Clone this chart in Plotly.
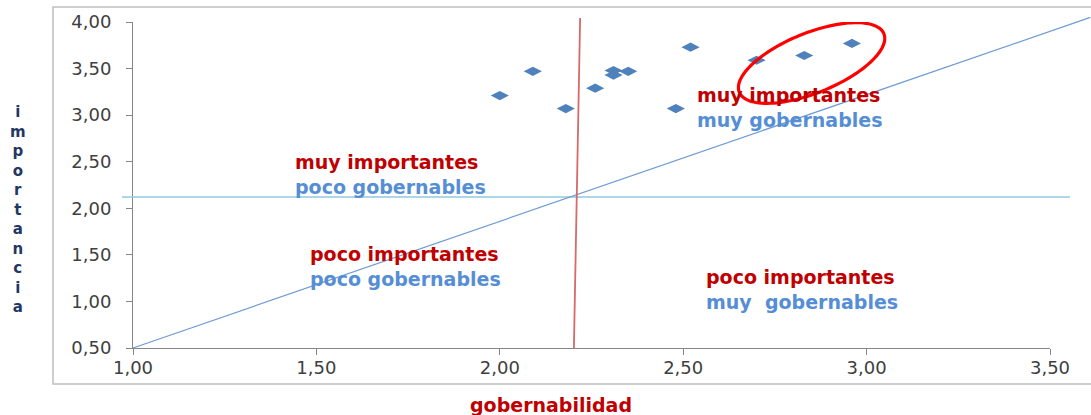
import numpy as np
import plotly.graph_objects as go

# ---- data ----
gobernabilidad = [2.00, 2.09, 2.18, 2.26, 2.31, 2.31, 2.35, 2.48, 2.52, 2.70, 2.83, 2.96]
importancia    = [3.21, 3.47, 3.07, 3.29, 3.48, 3.43, 3.47, 3.07, 3.73, 3.59, 3.64, 3.77]

x_ticks = [1.0, 1.5, 2.0, 2.5, 3.0, 3.5]
y_ticks = [0.5, 1.0, 1.5, 2.0, 2.5, 3.0, 3.5, 4.0]

umbral_gob = [2.202, 2.219]      # red vertical divider (bottom, top)
umbral_imp = 2.12                # horizontal divider
diag_x = [1.0, 3.61]
diag_y = [0.5, 4.05]

quad_x = [1.436, 2.532, 1.477, 2.557]
quad_y = [2.368, 3.082, 1.380, 1.123]
quad_imp = ["muy importantes", "muy importantes", "poco importantes", "poco importantes"]
quad_gob = ["poco gobernables", "muy gobernables", "poco gobernables", "muy  gobernables"]

# ---- layout constants ----
W, H = 1091, 415
ML, MR, MT, MB = 133, 41, 22, 67
XR = [1.0, 3.5]
YR = [0.5, 4.0]
PW, PH = W - ML - MR, H - MT - MB
sx = PW / (XR[1] - XR[0])
sy = PH / (YR[1] - YR[0])


def x_frac(v):
    return (v - XR[0]) / (XR[1] - XR[0])


def y_frac(v):
    return (v - YR[0]) / (YR[1] - YR[0])


RED_T = "#C00000"
BLUE_T = "#558ED5"
TICK_C = "#404040"
FONT = "DejaVu Sans"

fig = go.Figure()
fig.add_trace(go.Scatter(
    x=gobernabilidad, y=importancia, mode="markers",
    marker=dict(symbol="diamond-wide", size=13, color="#4F81BD"),
    showlegend=False, hoverinfo="x+y"))

shapes = []
# outer chart border
shapes.append(dict(type="rect", xref="paper", yref="paper",
                   x0=-80 / PW, x1=1.2, y0=-36 / PH, y1=1 + 15 / PH,
                   line=dict(color="#BFBFBF", width=1.5), layer="below"))
# horizontal divider
shapes.append(dict(type="line", xref="paper", yref="y",
                   x0=-11 / PW, x1=1 + 20 / PW, y0=umbral_imp, y1=umbral_imp,
                   line=dict(color="#8FCBDB", width=1.5)))
# diagonal (extends past the plot edge like the original)
shapes.append(dict(type="line", xref="paper", yref="paper",
                   x0=x_frac(diag_x[0]), x1=x_frac(diag_x[1]),
                   y0=y_frac(diag_y[0]), y1=y_frac(diag_y[1]),
                   line=dict(color="#6E9BD6", width=1.2)))
# vertical divider
shapes.append(dict(type="line", xref="x", yref="paper",
                   x0=umbral_gob[0], x1=umbral_gob[1], y0=0, y1=1 + 4 / PH,
                   line=dict(color="#D66A6A", width=1.8)))
# red ellipse around the three top-right points
cx, cy = 2.85, 3.56
a, b, ang = 78, 30, np.deg2rad(22)
t = np.linspace(0, 2 * np.pi, 120)
ex_px = a * np.cos(t) * np.cos(ang) - b * np.sin(t) * np.sin(ang)
ey_px = a * np.cos(t) * np.sin(ang) + b * np.sin(t) * np.cos(ang)
ex = cx + ex_px / sx
ey = cy + ey_px / sy
path = "M " + " L ".join(f"{u:.4f},{v:.4f}" for u, v in zip(ex, ey)) + " Z"
shapes.append(dict(type="path", xref="x", yref="y", path=path,
                   line=dict(color="#FF0000", width=3.2)))

annotations = []
for qx, qy, ti, tg in zip(quad_x, quad_y, quad_imp, quad_gob):
    annotations.append(dict(
        x=qx, y=qy, xref="x", yref="y", xanchor="left", yanchor="middle",
        align="left", showarrow=False,
        text=f"<span style='color:{RED_T}'>{ti}</span><br><span style='color:{BLUE_T}'>{tg}</span>",
        font=dict(family=FONT, size=19, weight="bold")))
# axis titles
annotations.append(dict(
    x=(18 - ML) / PW, y=(H - MB - 209) / PH, xref="paper", yref="paper",
    xanchor="center", yanchor="middle", showarrow=False, align="center",
    text="<br>".join(list("importancia")),
    font=dict(family=FONT, size=15, color="#1F3864", weight="bold")))
annotations.append(dict(
    x=(551 - ML) / PW, y=(H - MB - 405) / PH, xref="paper", yref="paper",
    xanchor="center", yanchor="middle", showarrow=False,
    text="gobernabilidad",
    font=dict(family=FONT, size=19, color=RED_T, weight="bold")))

fig.update_layout(
    width=W, height=H, autosize=False,
    margin=dict(l=ML, r=MR, t=MT, b=MB),
    paper_bgcolor="white", plot_bgcolor="white",
    separators=",.",
    shapes=shapes, annotations=annotations,
    xaxis=dict(range=XR, tickvals=x_ticks, tickformat=".2f", showgrid=False,
               zeroline=False, showline=True, linecolor="#868686", linewidth=1,
               ticks="outside", ticklen=6, tickcolor="#868686",
               tickfont=dict(family=FONT, size=18, color=TICK_C),
               ticklabelstandoff=-3),
    yaxis=dict(range=YR, tickvals=y_ticks, tickformat=".2f", showgrid=False,
               zeroline=False, showline=True, linecolor="#868686", linewidth=1,
               ticks="outside", ticklen=6, tickcolor="#868686",
               tickfont=dict(family=FONT, size=18, color=TICK_C),
               ticklabelstandoff=11),
)

fig.write_html("out.html", config={"displayModeBar": False},
               post_script="document.body.style.margin='0';document.body.style.overflow='hidden';")
